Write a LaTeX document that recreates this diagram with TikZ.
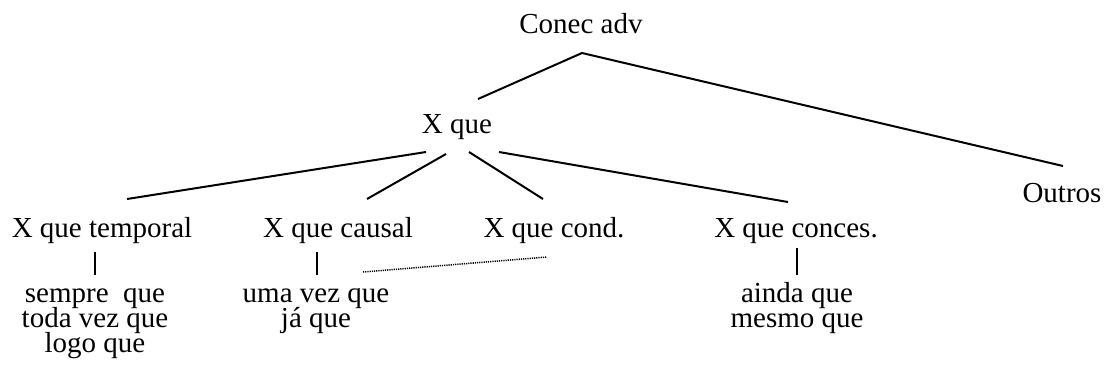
\documentclass[tikz,border=0pt]{standalone}
\usepackage{fontspec}
\setmainfont{Liberation Serif}
\usetikzlibrary{calc}
% label font: 29pt type on a fixed 25pt line pitch
\newcommand\treefont{\fontsize{29}{25}\selectfont\lineskiplimit=-40pt\lineskip=0pt\relax}
\begin{document}
\begin{tikzpicture}[x=1pt,y=-1pt,
  lbl/.style={inner sep=0pt, anchor=base, align=center, font=\treefont},
  branch/.style={line width=2pt},
  bar/.style={line width=1.1pt},
  link/.style={line width=1.5pt, dash pattern=on 1.2pt off 1pt}]
\useasboundingbox (0,0) rectangle (1108,376);

% tree labels
\node[lbl] (conec)    at (581,33)  {Conec adv};
\node[lbl] (xque)     at (457,133) {X que};
\node[lbl] (outros)   at (1062,202) {Outros};
\node[lbl] (temporal) at (102,237) {X que temporal};
\node[lbl] (causal)   at (338,237) {X que causal};
\node[lbl] (cond)     at (554,237) {X que cond.};
\node[lbl] (conces)   at (796,237) {X que conces.};

% lists of connectives (base = baseline of the last line)
\node[lbl] (tlist) at (95,352)  {sempre\ \ que\\toda vez que\\logo que};
\node[lbl] (clist) at (316,327) {uma vez que\\já que};
\node[lbl] (klist) at (797,327) {ainda que\\mesmo que};

% branches
\coordinate (apex) at ($(conec.base)+(1,20)$);
\draw[branch] ($(xque.base)+(21,-34)$) -- (apex) -- ($(outros.base)+(1,-36)$);
\draw[branch] ($(xque.base)+(-31,19)$) -- ($(temporal.base)+(25,-38)$);
\draw[branch] ($(xque.base)+(-11,21)$) -- ($(causal.base)+(29,-38)$);
\draw[branch] ($(xque.base)+(12,19)$)  -- ($(cond.base)+(-11,-38)$);
\draw[branch] ($(xque.base)+(42,19)$)  -- ($(conces.base)+(-8,-35)$);

% vertical strokes down to the lists
\draw[bar] ($(tlist.base)+(0,-100)$) -- ($(tlist.base)+(0,-77)$);
\draw[bar] ($(clist.base)+(1,-75)$) -- ($(clist.base)+(1,-52)$);
\draw[bar] ($(klist.base)+(0,-79)$) -- ($(klist.base)+(0,-52)$);

% dotted link between causal and conditional
\draw[link] ($(clist.base)+(47,-55)$) -- ($(cond.base)+(-7,20)$);
\end{tikzpicture}
\end{document}
